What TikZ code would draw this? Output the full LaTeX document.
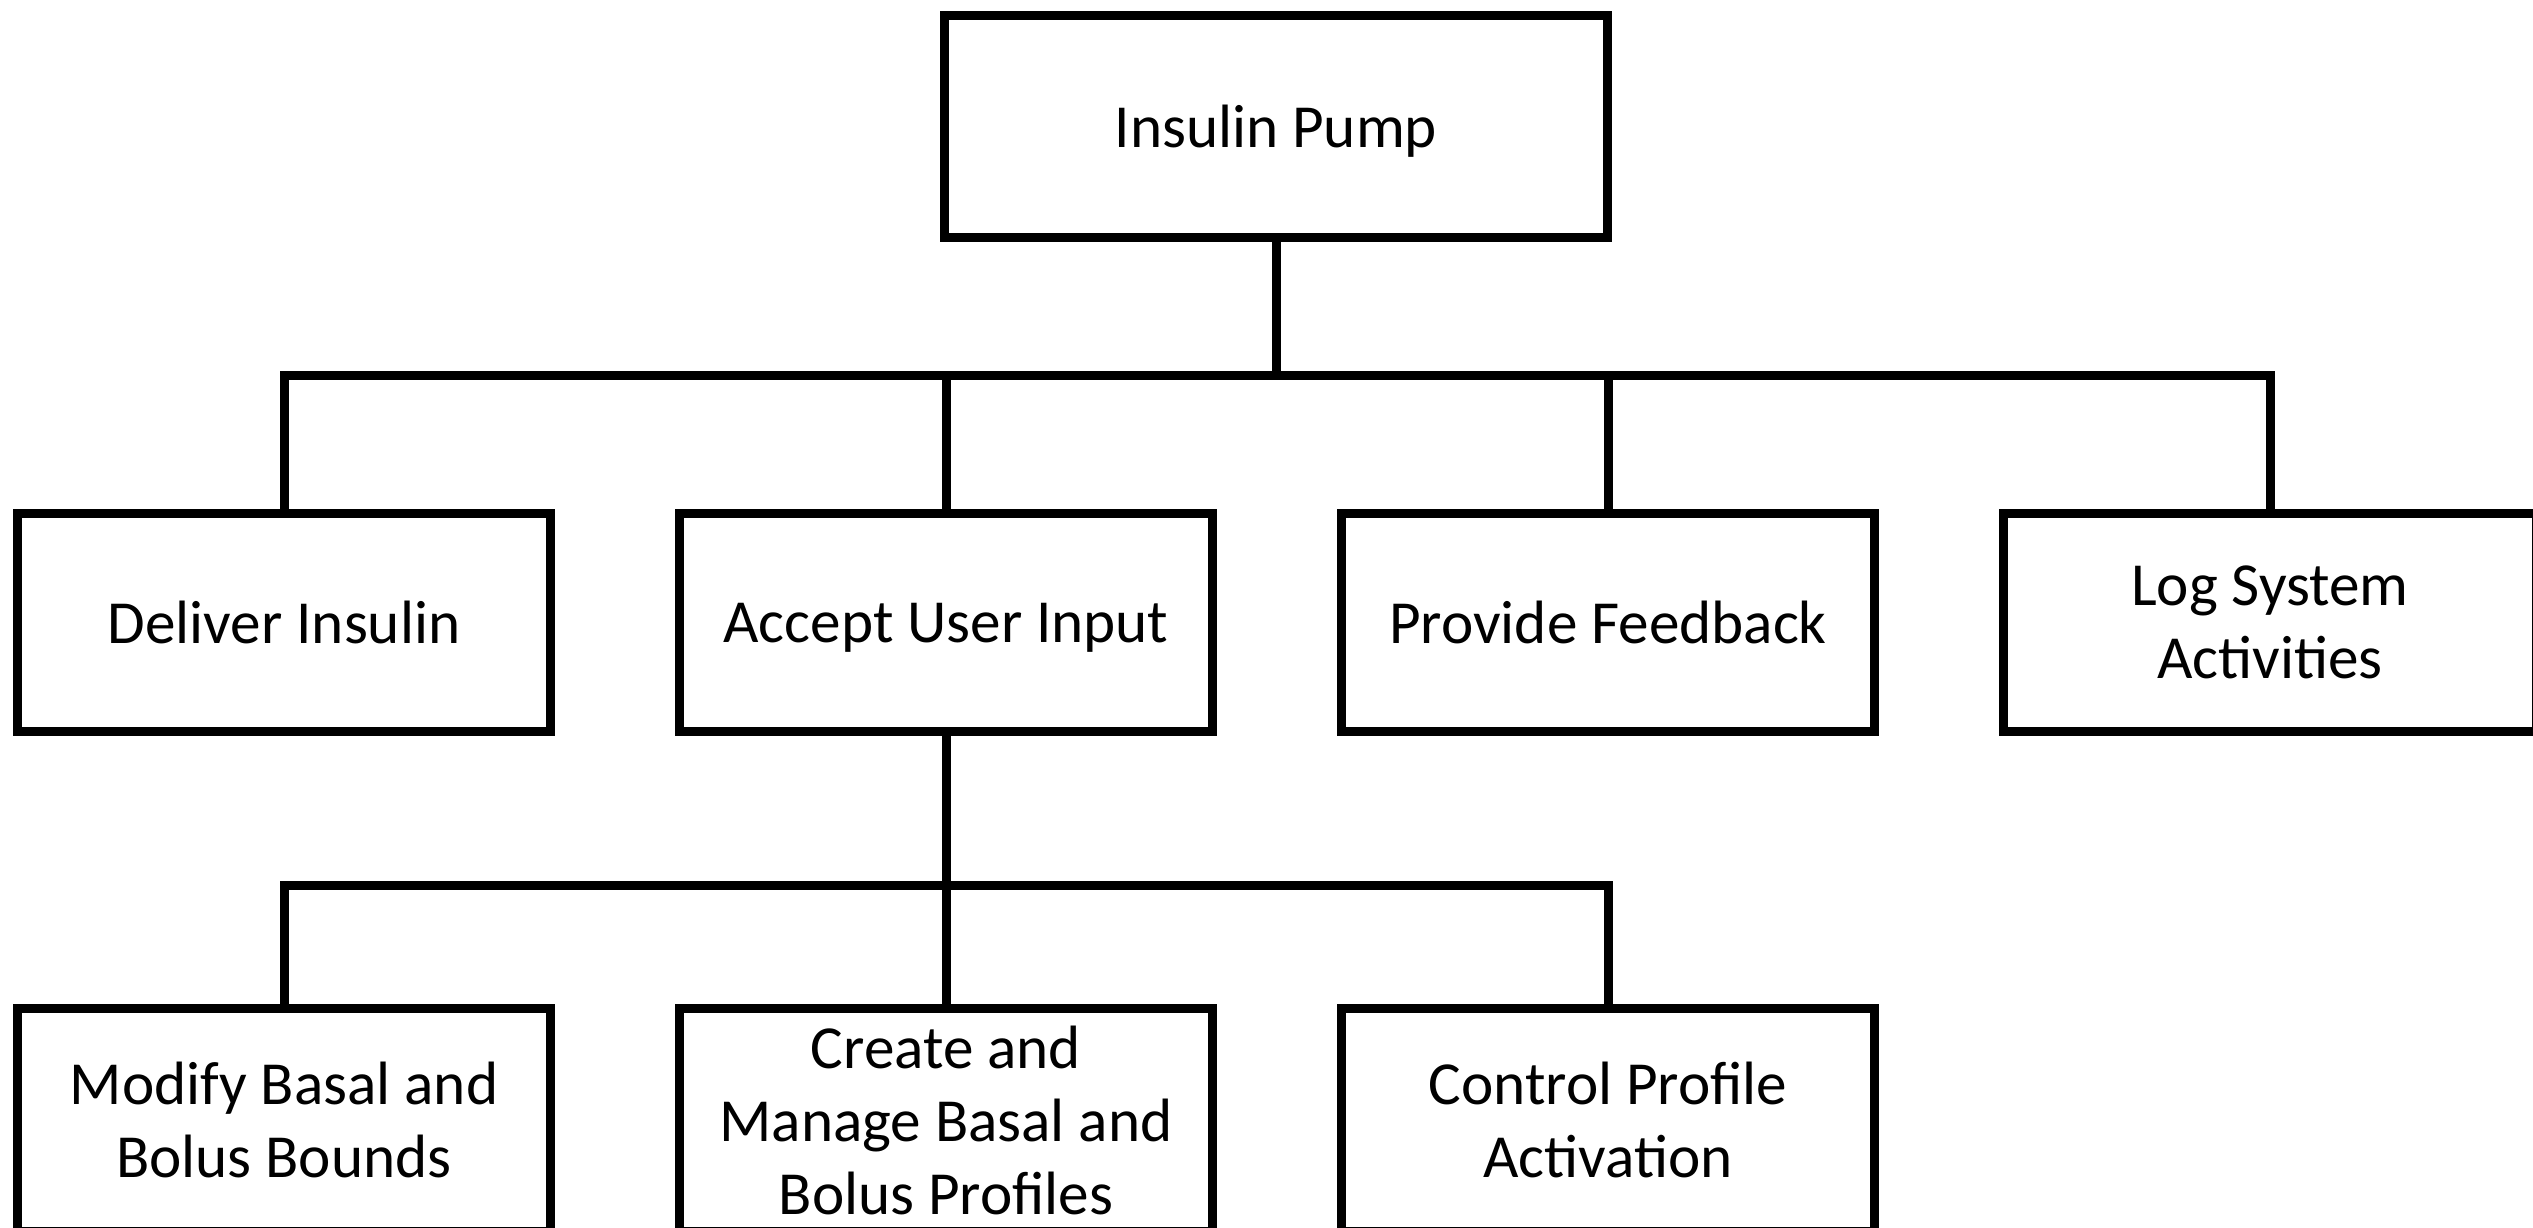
\documentclass[tikz,border=0pt]{standalone}
\usepackage{fontspec}
\setmainfont{Carlito}
\begin{document}
\begin{tikzpicture}[x=0.01cm,y=-0.01cm,
  box/.style={draw=black, line width=0.09cm, fill=white, align=center,
    inner sep=0pt, minimum width=5.33cm, minimum height=2.18cm,
    text depth=0pt, font=\fontsize{17.4}{20.8}\selectfont},
  topbox/.style={box, minimum width=6.63cm, minimum height=2.22cm},
  lowbox/.style={box, minimum height=2.23cm},
  link/.style={draw=black, line width=0.09cm, line join=miter}]
\useasboundingbox (0,0) rectangle (2533,1227);
\clip (0,0) rectangle (2533,1227);

% root
\node[topbox] (pump) at (1276,126.5) {Insulin Pump};

% first level
\node[box] (deliver)  at (284,622.5)  {Deliver Insulin};
\node[box] (accept)   at (946,622.5)  {Accept User Input};
\node[box] (feedback) at (1608,622.5) {Provide Feedback};
\node[box, text depth=-0.1cm] (log) at (2270,622.5) {Log System\\Activities};

% second level, below Accept User Input
\node[lowbox] (modify)  at (284,1120)  {Modify Basal and\\Bolus Bounds};
\node[lowbox] (create)  at (946,1120)  {Create and\\Manage Basal and\\Bolus Profiles};
\node[lowbox] (control) at (1608,1120) {Control Profile\\Activation};

% bus lines
\coordinate (busA) at (1276,375.5);
\coordinate (busB) at (946,885);

\draw[link] (pump.south) -- (busA) -| (deliver.north);
\draw[link] (busA) -| (accept.north);
\draw[link] (busA) -| (feedback.north);
\draw[link] (busA) -| (log.north);

\draw[link] (accept.south) -- (busB) -| (modify.north);
\draw[link] (busB) -- (create.north);
\draw[link] (busB) -| (control.north);
\end{tikzpicture}
\end{document}
